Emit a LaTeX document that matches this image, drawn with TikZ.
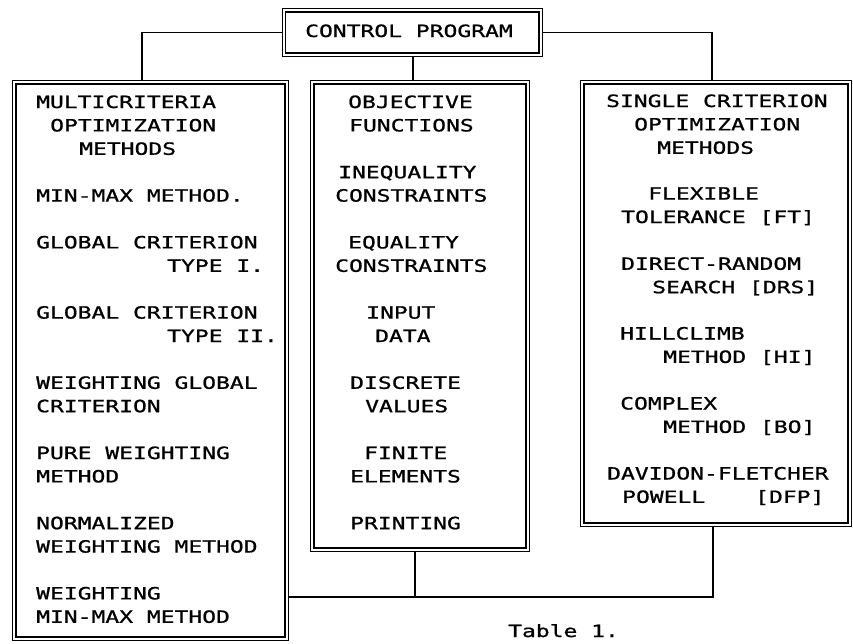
\documentclass[tikz,border=0pt]{standalone}
\usepackage{fontspec}
\newfontfamily\dm[FakeStretch=1.36,FakeBold=1]{DejaVu Sans Mono}
\usetikzlibrary{backgrounds}
\tikzset{
  dbox/.style={draw, double, double distance=2pt, line width=1.2pt, rectangle, inner sep=0pt},
  conn/.style={line width=1.5pt},
  t/.style={anchor=base west, inner sep=0pt, font=\dm\fontsize{16.9}{20}\selectfont}
}
\begin{document}
\begin{tikzpicture}[x=1pt,y=-1pt]
\useasboundingbox (0,0) rectangle (853,643);
% boxes
\node[dbox, minimum width=256.5pt, minimum height=44.2pt] (ctl) at (412.4,32.5) {};
\node[dbox, minimum width=272.2pt, minimum height=556.2pt] (lbox) at (150.5,360.5) {};
\node[dbox, minimum width=215.2pt, minimum height=467.2pt] (mbox) at (420,316) {};
\node[dbox, minimum width=267.2pt, minimum height=442.2pt] (rbox) at (716,303.5) {};
% connector anchors
\coordinate (tl) at (142,0);
\coordinate (tr) at (712,0);
\coordinate (tm) at (413,0);
\coordinate (bj) at (415,597);
\coordinate (bc) at (713,597);
\begin{scope}[on background layer]
\draw[conn] (ctl.west) -| (lbox.north -| tl);
\draw[conn] (ctl.east) -| (rbox.north -| tr);
\draw[conn] (ctl.south -| tm) -- (mbox.north -| tm);
\draw[conn] (mbox.south -| bj) -- (bj);
\draw[conn] (lbox.east |- bj) -- (bc) -- (rbox.south -| bc);
\end{scope}
% control text
\node[t] (c1) at (305,37) {CONTROL PROGRAM};
% left box
\node[t] (l1) at (36,108) {MULTICRITERIA};
\node[t] (l2) at (50,131.4) {OPTIMIZATION};
\node[t] (l3) at (79,154.8) {METHODS};
\node[t] (l4) at (36,201.6) {MIN-MAX METHOD.};
\node[t] (l5) at (36,248.4) {GLOBAL CRITERION};
\node[t] (l6) at (167,271.8) {TYPE I.};
\node[t] (l7) at (36,318.6) {GLOBAL CRITERION};
\node[t] (l8) at (167,342) {TYPE II.};
\node[t] (l9) at (36,388.8) {WEIGHTING GLOBAL};
\node[t] (l10) at (36,412.2) {CRITERION};
\node[t] (l11) at (36,459) {PURE WEIGHTING};
\node[t] (l12) at (36,482.4) {METHOD};
\node[t] (l13) at (36,529.2) {NORMALIZED};
\node[t] (l14) at (36,552.6) {WEIGHTING METHOD};
\node[t] (l15) at (36,599.4) {WEIGHTING};
\node[t] (l16) at (36,622.8) {MIN-MAX METHOD};
% middle box
\node[t] (m1) at (348,108) {OBJECTIVE};
\node[t] (m2) at (349,131.4) {FUNCTIONS};
\node[t] (m3) at (338,178.2) {INEQUALITY};
\node[t] (m4) at (335,201.6) {CONSTRAINTS};
\node[t] (m5) at (348,248.4) {EQUALITY};
\node[t] (m6) at (335,271.8) {CONSTRAINTS};
\node[t] (m7) at (366,318.6) {INPUT};
\node[t] (m8) at (375,342) {DATA};
\node[t] (m9) at (350,388.8) {DISCRETE};
\node[t] (m10) at (365,412.2) {VALUES};
\node[t] (m11) at (364,459) {FINITE};
\node[t] (m12) at (350,482.4) {ELEMENTS};
\node[t] (m13) at (350,529.2) {PRINTING};
% right box
\node[t] (r1) at (606,107) {SINGLE CRITERION};
\node[t] (r2) at (634,130.4) {OPTIMIZATION};
\node[t] (r3) at (657,153.8) {METHODS};
\node[t] (r4) at (648,199.6) {FLEXIBLE};
\node[t] (r5) at (621,223) {TOLERANCE [FT]};
\node[t] (r6) at (621,269.8) {DIRECT-RANDOM};
\node[t] (r7) at (652,293.2) {SEARCH [DRS]};
\node[t] (r8) at (620,339.5) {HILLCLIMB};
\node[t] (r9) at (663,362.9) {METHOD [HI]};
\node[t] (r10) at (620,409.5) {COMPLEX};
\node[t] (r11) at (663,432.9) {METHOD [BO]};
\node[t] (r12) at (607,479.5) {DAVIDON-FLETCHER};
\node[t] (r13) at (622,502.9) {POWELL\hspace{50pt}[DFP]};
% caption
\node[t] (tab) at (508,637) {Table 1.};
\end{tikzpicture}
\end{document}
